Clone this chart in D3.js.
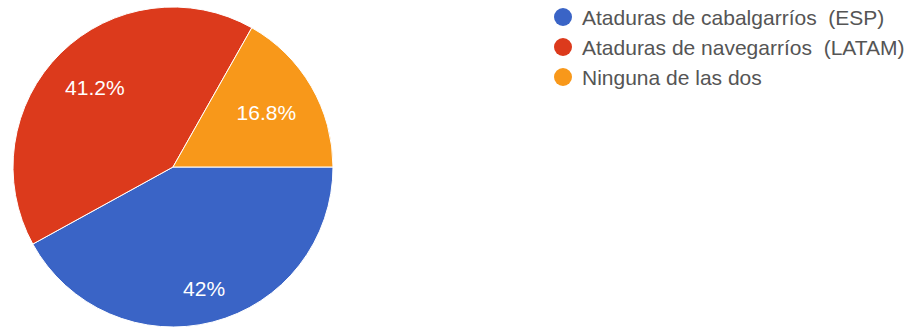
<!DOCTYPE html>
<html><head><meta charset="utf-8">
<script src="https://cdn.jsdelivr.net/npm/d3@7"></script>
<style>body{margin:0;background:#fff}svg{display:block}</style>
</head><body>
<svg id="c" width="918" height="328"></svg>
<script>
const categories = ["Ataduras de cabalgarríos  (ESP)", "Ataduras de navegarríos  (LATAM)", "Ninguna de las dos"];
const values = [42, 41.2, 16.8];
const labels = ["42%", "41.2%", "16.8%"];
const colors = ["#3a64c6", "#dc3a1c", "#f8981a"];

const svg = d3.select("#c");
const cx = 173, cy = 167, R = 160;
const g = svg.append("g").attr("transform", `translate(${cx},${cy})`);
const pie = d3.pie().sort(null).startAngle(Math.PI/2).endAngle(Math.PI/2 + 2*Math.PI);
const arcs = pie(values);
const arc = d3.arc().innerRadius(0).outerRadius(R);
g.selectAll("path").data(arcs).join("path")
  .attr("d", arc).attr("fill", (d,i)=>colors[i])
  .attr("stroke", "#fff").attr("stroke-width", 1);
const fs = 21;
const lab = g.selectAll("text").data(arcs).join("text")
  .attr("text-anchor", "middle").attr("dy", "0.36em")
  .attr("fill", "#fff").attr("font-family", "Liberation Sans, Arial, sans-serif")
  .attr("font-size", fs)
  .text((d,i)=>labels[i]);
// place each label so that its outer box corner sits at a fixed radius
const outer = 0.86 * R;
lab.each(function(d){
  const w = this.getComputedTextLength(), h = fs * 0.72;
  const a = (d.startAngle + d.endAngle) / 2;
  const s = Math.sin(a), c = -Math.cos(a);
  const r = outer - Math.abs(s) * w / 2 - Math.abs(c) * h / 2;
  d3.select(this).attr("transform", `translate(${r*s},${r*c})`);
});

const lg = svg.append("g");
const item = lg.selectAll("g").data(categories).join("g")
  .attr("transform", (d,i)=>`translate(563,${17 + i*30})`);
item.append("circle").attr("r", 9).attr("fill", (d,i)=>colors[i]);
item.append("text").attr("x", 19).attr("dy", "0.36em")
  .attr("fill", "#555").attr("font-family", "Liberation Sans, Arial, sans-serif")
  .attr("font-size", 21).attr("xml:space","preserve")
  .text(d=>d);
</script>
</body></html>
